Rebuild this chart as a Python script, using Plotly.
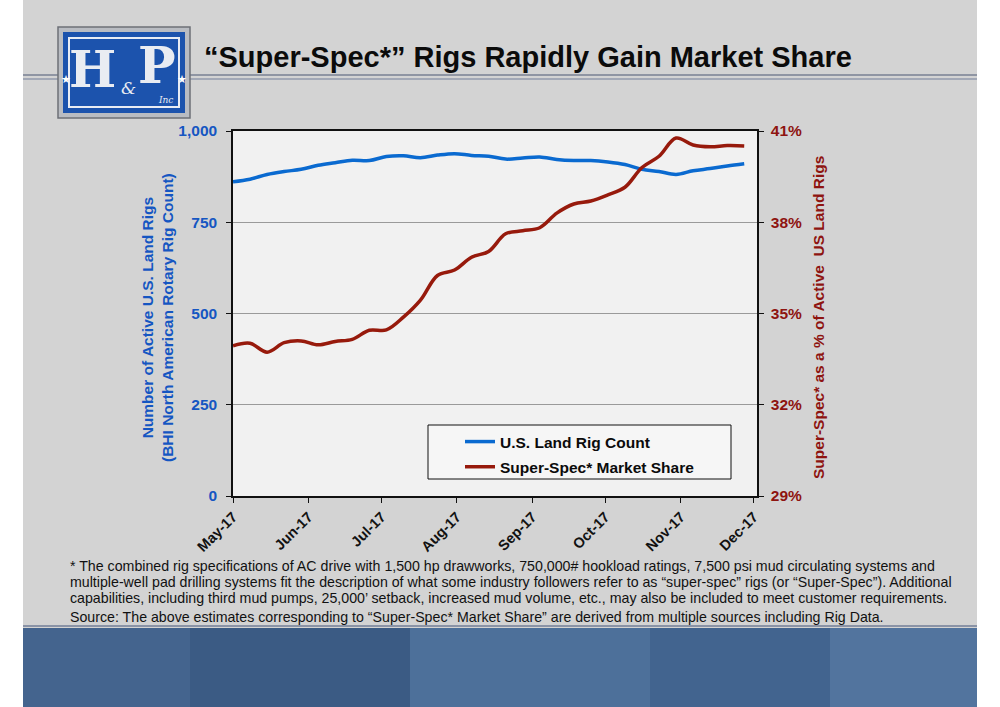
import plotly.graph_objects as go

# ---------------- data ----------------
dates = ["2017-05-01", "2017-05-08", "2017-05-15", "2017-05-22", "2017-05-29",
         "2017-06-05", "2017-06-12", "2017-06-19", "2017-06-26", "2017-07-03",
         "2017-07-10", "2017-07-17", "2017-07-24", "2017-07-31", "2017-08-07",
         "2017-08-14", "2017-08-21", "2017-08-28", "2017-09-04", "2017-09-11",
         "2017-09-18", "2017-09-25", "2017-10-02", "2017-10-09", "2017-10-16",
         "2017-10-23", "2017-10-30", "2017-11-06", "2017-11-13", "2017-11-20",
         "2017-11-27"]
rig_count = [861, 868, 881, 889, 895, 906, 913, 920, 919, 930,
             932, 927, 934, 938, 933, 931, 923, 926, 929, 922,
             919, 919, 915, 908, 895, 889, 881, 891, 897, 904, 910]
super_spec_share = [33.94, 34.02, 33.73, 34.04, 34.10, 33.97, 34.08, 34.15, 34.45, 34.46,
                    34.88, 35.44, 36.25, 36.43, 36.85, 37.04, 37.62, 37.72, 37.82, 38.30,
                    38.60, 38.70, 38.90, 39.15, 39.80, 40.17, 40.77, 40.54, 40.48, 40.52, 40.51]
left_ticks = [0, 250, 500, 750, 1000]
right_ticks = [29, 32, 35, 38, 41]

title_text = "“Super-Spec*” Rigs Rapidly Gain Market Share"
footnotes = [
    "* The combined rig specifications of AC drive with 1,500 hp drawworks, 750,000# hookload ratings, 7,500 psi mud circulating systems and",
    "multiple-well pad drilling systems fit the description of what some industry followers refer to as “super-spec” rigs (or “Super-Spec”). Additional",
    "capabilities, including third mud pumps, 25,000’ setback, increased mud volume, etc., may also be included to meet customer requirements.",
    "Source: The above estimates corresponding to “Super-Spec* Market Share” are derived from multiple sources including Rig Data.",
]

# ---------------- layout helpers ----------------
W, H = 1000, 707
L, R, T, B = 233, 757, 131, 496


def px(x):
    return (x - L) / (R - L)


def py(y):
    return (B - y) / (B - T)


BLUE = "#0a6ad0"
RED = "#971a0c"
BLUE_TXT = "#1556c2"
RED_TXT = "#8e1410"
FONT = "Liberation Sans, Arial, sans-serif"

fig = go.Figure()
fig.add_trace(go.Scatter(x=dates, y=rig_count, name="U.S. Land Rig Count",
                         mode="lines", line=dict(color=BLUE, width=3.5, shape="spline"),
                         legendgroup="a"))
fig.add_trace(go.Scatter(x=dates, y=super_spec_share, name="Super-Spec* Market Share",
                         mode="lines", line=dict(color=RED, width=3.5, shape="spline"),
                         yaxis="y2", legendgroup="b"))


def rect(x0, x1, y0, y1, fill, line=None, layer="below"):
    return dict(type="rect", xref="paper", yref="paper", x0=px(x0), x1=px(x1), y0=py(y1), y1=py(y0),
                fillcolor=fill, line=line or dict(width=0), layer=layer)


shapes = []
# white side margins
shapes.append(rect(977, 1000, 0, 707, "white"))
shapes.append(rect(0, 23, 0, 707, "white"))
# title rule (double line)
for yy, c in [(75, "#8f95a3"), (79, "#a2a8b6")]:
    shapes.append(dict(type="line", xref="paper", yref="paper", x0=px(23), x1=px(977), y0=py(yy), y1=py(yy),
                       line=dict(color=c, width=2), layer="below"))
# bottom photo band
shapes.append(dict(type="line", xref="paper", yref="paper", x0=px(23), x1=px(977), y0=py(626), y1=py(626),
                   line=dict(color="#8a93a6", width=2), layer="below"))
band = [(23, 190, "#44648e"), (190, 410, "#3b5b84"), (410, 650, "#4d709a"), (650, 830, "#42648f"), (830, 977, "#52749e")]
for x0, x1, c in band:
    shapes.append(rect(x0, x1, 628, 707, c))
# logo
shapes.append(rect(58, 190, 27, 118, "#b9bcc2", dict(color="#6d7077", width=1.5), "above"))
shapes.append(rect(63, 185, 32, 113, "#1c53ad", None, "above"))
shapes.append(rect(69, 179, 38, 107, "rgba(0,0,0,0)", dict(color="#e8ecf4", width=2), "above"))
# legend box
shapes.append(rect(428, 731, 425, 479, "#f6f6f6", dict(color="#111111", width=1), "above"))


def ann(text, x, y, size, color, family=FONT, xanchor="center", yanchor="middle", angle=0):
    return dict(text=text, x=px(x), y=py(y), xref="paper", yref="paper", showarrow=False,
                xanchor=xanchor, yanchor=yanchor, textangle=angle,
                font=dict(family=family, size=size, color=color))


annotations = []
annotations.append(ann("<b>" + title_text + "</b>", 528, 57, 29, "#0b0b0b"))
# logo letters
annotations.append(ann("<b>H</b>", 92, 70, 50, "#e9ecf2", "DejaVu Serif"))
annotations.append(ann("<b>P</b>", 157, 66, 50, "#e9ecf2", "DejaVu Serif"))
annotations.append(ann("<i>&amp;</i>", 128, 88, 17, "#e9ecf2", "DejaVu Serif"))
annotations.append(ann("<i>Inc</i>", 165, 100, 9, "#e9ecf2", "DejaVu Serif"))
for sx in (66, 182):
    annotations.append(ann("★", sx, 79, 11, "white"))
# axis titles
annotations.append(ann("<b>Number of Active U.S. Land Rigs<br>(BHI North American Rotary Rig Count)</b>",
                       157, 318, 15.5, BLUE_TXT, angle=-90))
annotations.append(ann("<b>Super-Spec* as a % of Active  US Land Rigs</b>",
                       818, 318, 15.5, RED_TXT, angle=-90))
# footnotes
for t, yy in zip(footnotes, [566, 582, 598, 617]):
    annotations.append(ann(t, 68, yy, 14.2, "#111111", xanchor="left"))

fig.update_layout(
    width=W, height=H, autosize=False,
    margin=dict(l=L, r=W - R, t=T, b=H - B, pad=0),
    paper_bgcolor="#d3d3d3",
    plot_bgcolor="#f1f1f1",
    font=dict(family=FONT, color="#111111"),
    showlegend=True,
    legend=dict(x=px(460), y=py(425), xanchor="left", yanchor="top",
                bgcolor="rgba(0,0,0,0)", borderwidth=0, tracegroupgap=2,
                traceorder="grouped",
                font=dict(family=FONT, size=15.5, color="#0b0b0b", weight="bold")),
    xaxis=dict(type="date", range=["2017-05-01", "2017-12-02 06:00"],
               tickformat="%b-%y", dtick="M1", tick0="2017-05-01", tickangle=-45,
               ticks="outside", ticklen=5, tickcolor="#111111", showgrid=False,
               showline=True, linecolor="#111111", linewidth=1.5, mirror=True,
               tickfont=dict(family=FONT, size=14.5, color="#111111", weight="bold"), zeroline=False),
    yaxis=dict(range=[0, 1000], tickvals=left_ticks, ticktext=[f"{v:,}" for v in left_ticks],
               ticks="outside", ticklen=5, tickcolor="#111111", ticklabelstandoff=6,
               showline=True, linecolor="#111111", linewidth=1.5,
               showgrid=True, gridcolor="#9a9a9a", gridwidth=1.2, zeroline=False,
               tickfont=dict(family=FONT, size=15.5, color=BLUE_TXT, weight="bold")),
    yaxis2=dict(range=[29, 41], tickvals=right_ticks, ticktext=[f"{v}%" for v in right_ticks],
                overlaying="y", side="right", ticks="outside", ticklen=5, tickcolor="#111111",
                ticklabelstandoff=4,
                showline=True, linecolor="#111111", linewidth=1.5, showgrid=False, zeroline=False,
                tickfont=dict(family=FONT, size=15.5, color=RED_TXT, weight="bold")),
    shapes=shapes,
    annotations=annotations,
)

fig.write_html("out.html", config={"displayModeBar": False},
               post_script="document.body.style.margin='0px';document.body.style.overflow='hidden';")
